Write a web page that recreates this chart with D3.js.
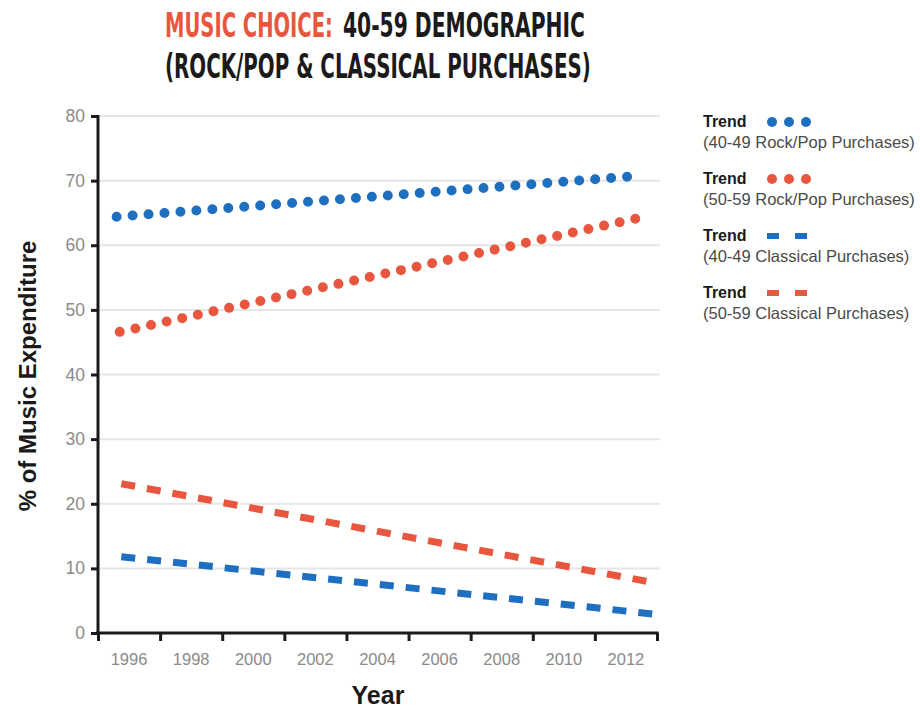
<!DOCTYPE html>
<html>
<head>
<meta charset="utf-8">
<script src="https://cdn.jsdelivr.net/npm/d3@7"></script>
<style>
body{margin:0;background:#fff;}
svg{display:block;}
</style>
</head>
<body>
<svg id="canvas" width="920" height="711"></svg>
<script>
// trend lines (start / end of each trend)
seriesNames=["40-49 Rock/Pop Purchases","50-59 Rock/Pop Purchases","40-49 Classical Purchases","50-59 Classical Purchases"]
seriesColors=["#1f6fc1","#e9563f","#1f6fc1","#e9563f"]
seriesStyle=["dots","dots","dash","dash"]
startYear=[1995.6,1995.7,1995.75,1995.75]
endYear=[2012.55,2012.3,2012.95,2012.9]
startValue=[64.4,46.6,11.8,23.1]
endValue=[70.8,64.1,2.9,7.8]

yTicks=[0,10,20,30,40,50,60,70,80]
xLabels=[1996,1998,2000,2002,2004,2006,2008,2010,2012]
xTickMarks=[1995,1997,1999,2001,2003,2005,2007,2009,2011,2013]

var svg=d3.select("#canvas")
var FONT="'Liberation Sans', Arial, sans-serif"
var TITLE_FONT="'Liberation Sans Narrow', 'DejaVu Sans Condensed', sans-serif"

x=d3.scaleLinear().domain([1995,2013]).range([98,657])
y=d3.scaleLinear().domain([0,80]).range([633,116])

// title: squeeze each part horizontally to the width it has in the reference
function titlePart(txt,x0,y0,len,color){
    var t=svg.append("text")
        .attr("font-family",TITLE_FONT)
        .attr("font-weight","bold").attr("font-size","34px")
        .attr("fill",color)
        .text(txt)
    var natural=t.node().getComputedTextLength()
    t.attr("transform","translate("+x0+","+y0+") scale("+(len/natural)+",1)")
}
titlePart("MUSIC CHOICE:",165,37,168,"#e9563f")
titlePart("40-59 DEMOGRAPHIC",343,37,242,"#1a1a1a")
titlePart("(ROCK/POP & CLASSICAL PURCHASES)",165,78,426,"#1a1a1a")

// gridlines
svg.selectAll("line.grid")
    .data(yTicks.filter(d=>d>0))
    .enter().append("line")
    .attr("class","grid")
    .attr("x1",100).attr("x2",660)
    .attr("y1",d=>y(d)).attr("y2",d=>y(d))
    .style("stroke","#e6e6e6").style("stroke-width",2)

// y axis
var yAxis=svg.append("g").attr("transform","translate(98,0)")
    .call(d3.axisLeft(y).tickValues(yTicks).tickSize(7).tickPadding(6))
yAxis.select(".domain").attr("d","M0,"+(y(80)-1)+"V"+(y(0)+2)).style("stroke","#1a1a1a").style("stroke-width",3)
yAxis.selectAll(".tick line").style("stroke","#1a1a1a").style("stroke-width",3)
yAxis.selectAll(".tick text").attr("fill","#8a8a8a").attr("font-size","17.5px").attr("font-family",FONT)

// x axis: tick marks on odd years, labels on even years
var xAxis=svg.append("g").attr("transform","translate(0,633)")
    .call(d3.axisBottom(x).tickValues(xTickMarks).tickSize(8).tickFormat(""))
xAxis.select(".domain").attr("d","M"+(x(1995)-2)+",0H"+(x(2013)+1.5)).style("stroke","#1a1a1a").style("stroke-width",3)
xAxis.selectAll(".tick line").style("stroke","#1a1a1a").style("stroke-width",3)
svg.selectAll("text.xlab")
    .data(xLabels)
    .enter().append("text")
    .attr("class","xlab")
    .attr("x",d=>x(d)).attr("y",665)
    .attr("text-anchor","middle")
    .attr("font-family",FONT).attr("font-size","16.5px")
    .attr("fill","#8a8a8a")
    .text(d=>d)

// axis titles
svg.append("text")
    .attr("transform","translate(36,376) rotate(-90)")
    .attr("text-anchor","middle")
    .attr("font-family",FONT).attr("font-weight","bold").attr("font-size","24px")
    .attr("fill","#1a1a1a")
    .text("% of Music Expenditure")
svg.append("text")
    .attr("x",378).attr("y",704)
    .attr("text-anchor","middle")
    .attr("font-family",FONT).attr("font-weight","bold").attr("font-size","25px")
    .attr("fill","#1a1a1a")
    .text("Year")

// trend lines
var line=d3.line().x(d=>x(d[0])).y(d=>y(d[1]))
seriesNames.forEach(function(name,i){
    var pts=[[startYear[i],startValue[i]],[endYear[i],endValue[i]]]
    var p=svg.append("path")
        .datum(pts)
        .attr("d",line)
        .attr("fill","none")
        .style("stroke",seriesColors[i])
    if(seriesStyle[i]=="dots"){
        // spread the dots so one lands on each end
        var len=p.node().getTotalLength()
        var gap=len/Math.round(len/16)
        p.style("stroke-width",10).style("stroke-linecap","round").style("stroke-dasharray","0,"+gap)
    }else{
        p.style("stroke-width",7).style("stroke-dasharray","14,12")
    }
})

// legend
var legend=svg.selectAll("g.legend")
    .data(seriesNames)
    .enter().append("g")
    .attr("class","legend")
    .attr("transform",(d,i)=>"translate(703,"+(127+i*57)+")")
legend.append("text")
    .attr("font-family",FONT).attr("font-weight","bold").attr("font-size","16px")
    .attr("fill","#1a1a1a")
    .text("Trend")
legend.append("text")
    .attr("y",21)
    .attr("font-family",FONT).attr("font-size","16.5px")
    .attr("fill","#4a4a4a")
    .text(d=>"("+d+")")
legend.each(function(d,i){
    var g=d3.select(this)
    if(seriesStyle[i]=="dots"){
        g.selectAll("circle").data([69,86,103]).enter().append("circle")
            .attr("cx",c=>c).attr("cy",-5).attr("r",5)
            .attr("fill",seriesColors[i])
    }else{
        g.append("line").attr("x1",64).attr("x2",104).attr("y1",-5).attr("y2",-5)
            .style("stroke",seriesColors[i]).style("stroke-width",6).style("stroke-dasharray","12,16")
    }
})
</script>
</body>
</html>
